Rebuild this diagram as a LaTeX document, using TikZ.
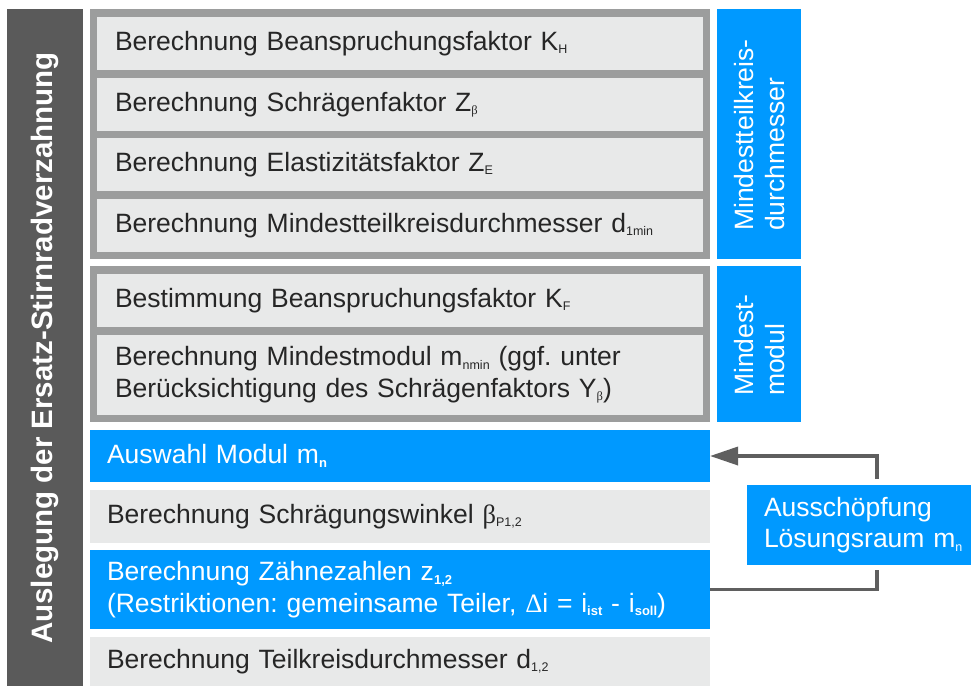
\documentclass[tikz,border=0pt]{standalone}
\usepackage{fontspec}
\setmainfont{Liberation Sans}
\newfontfamily\symf{Liberation Serif}
\usetikzlibrary{arrows.meta}
\definecolor{bblue}{HTML}{0099FF}
\definecolor{lgray}{HTML}{E8E9E9}
\definecolor{mgray}{HTML}{9C9D9D}
\definecolor{dgray}{HTML}{5A5A5A}
\definecolor{txt}{HTML}{262626}
\definecolor{lin}{HTML}{5F5F5F}
\newcommand\sbs[1]{\raisebox{-3.5pt}{\fontsize{12.5}{12.5}\selectfont #1}}
\newcommand\sbb[1]{\raisebox{-3.5pt}{\fontsize{13}{13}\selectfont\bfseries #1}}
\frenchspacing
\tikzset{
  base/.style={anchor=north west, inner sep=0pt, outer sep=0pt, font=\fontsize{26.5}{31.5}\selectfont, align=left},
  grp/.style={base, fill=mgray},
  gbox/.style={base, fill=lgray, text=txt, inner xsep=18pt},
  lbox/.style={base, fill=lgray, text=txt, inner xsep=17pt},
  bbox/.style={base, fill=bblue, text=white, inner xsep=17pt},
  side/.style={base, fill=bblue, text=white},
  conn/.style={draw=lin, line width=3.5pt},
  vtxt/.style={rotate=90, anchor=north west, align=left, text=white, inner sep=0pt, font=\fontsize{26.5}{31}\selectfont},
}
\begin{document}
\begin{tikzpicture}[x=1pt,y=-1pt]
\useasboundingbox (0,0) rectangle (971,686);
% left bar
\node[base, fill=dgray, minimum width=76pt, minimum height=677pt] (bar) at (7,9) {};
\node[rotate=90, text=white, inner sep=0pt, font=\fontsize{29.5}{29.5}\selectfont\bfseries] (bartxt) at (45,348) {Auslegung der Ersatz-Stirnradverzahnung};
% group 1
\node[grp, minimum width=620pt, minimum height=250pt] (g1) at (90,9) {};
\node[gbox, minimum height=53pt, text width=570pt] (b1) at (97,17) {Berechnung Beanspruchungsfaktor K\sbs{H}};
\node[gbox, minimum height=53pt, text width=570pt] (b2) at (97,78) {Berechnung Schrägenfaktor Z\sbs{\symf β}};
\node[gbox, minimum height=53pt, text width=570pt] (b3) at (97,138) {Berechnung Elastizitätsfaktor Z\sbs{E}};
\node[gbox, minimum height=53pt, text width=570pt] (b4) at (97,199) {Berechnung Mindestteilkreisdurchmesser d\sbs{1min}};
% group 2
\node[grp, minimum width=620pt, minimum height=156pt] (g2) at (90,266) {};
\node[gbox, minimum height=53pt, text width=570pt] (b5) at (97,274) {Bestimmung Beanspruchungsfaktor K\sbs{F}};
\node[gbox, minimum height=80pt, text width=570pt] (b6) at (97,335) {Berechnung Mindestmodul m\sbs{nmin} (ggf. unter\\Berücksichtigung des Schrägenfaktors Y\sbs{\symf β})};
% side labels
\node[side, minimum width=84pt, minimum height=250pt] (s1) at (717,9) {};
\node[vtxt] (s1t) at (734,231) {Mindestteilkreis-\\durchmesser};
\node[side, minimum width=84pt, minimum height=156pt] (s2) at (717,266) {};
\node[vtxt] (s2t) at (734,396) {Mindest-\\modul};
% lower boxes
\node[bbox, minimum height=52pt, text width=586pt] (auswahl) at (90,430) {Auswahl Modul m\sbb{n}};
\node[lbox, minimum height=53pt, text width=586pt] (schr) at (90,490) {Berechnung Schrägungswinkel {\symf β}\sbs{P1,2}};
\node[bbox, minimum height=79pt, text width=586pt] (zahn) at (90,550) {Berechnung Zähnezahlen z\sbb{1,2}\\(Restriktionen: gemeinsame Teiler, {\symf Δ}i = i\sbb{ist} - i\sbb{soll})};
\node[lbox, minimum height=49pt, text width=586pt] (teil) at (90,637) {Berechnung Teilkreisdurchmesser d\sbs{1,2}};
% loop box
\node[bbox, minimum height=80pt, text width=210pt] (aus) at (747,485) {Ausschöpfung\\Lösungsraum m\sbs{n}};
\coordinate (k1) at (877,479);
\coordinate (k2) at (877,570);
\draw[conn, -{Triangle[length=28pt,width=18pt]}] (k1) |- (auswahl.east);
\draw[conn] (k2) |- (zahn.east);
\end{tikzpicture}
\end{document}
